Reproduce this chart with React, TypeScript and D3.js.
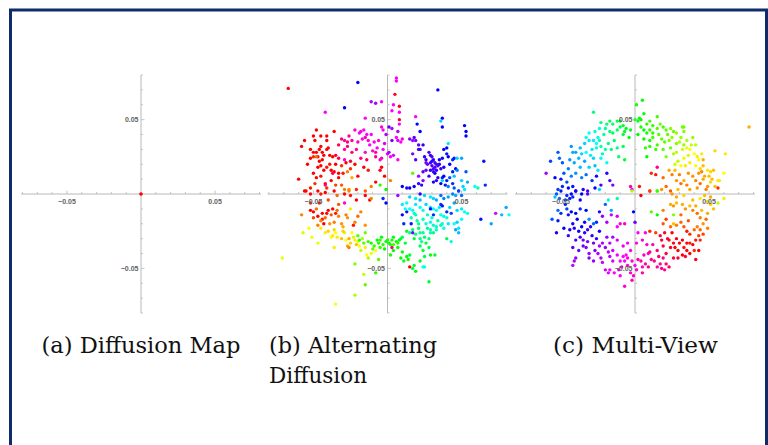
import React from "react";
import * as d3 from "d3";

// point coordinates are in thousandths (x1000), third value is hue in degrees
const diffusionMapPts: [number, number, number][] = [[0, 0, 0]];

const alternatingPts: [number, number, number][] = [
  [-67,71,0],[-20,75,240],[6,78,300],[6,76,300],[34,70,240],[5,67,350],[-11,62,280],[-8,61,280],[-4,62,300],
  [-29,58,240],[-42,55,300],[4,60,300],[8,59,350],[3,56,300],[8,55,300],[19,52,300],[-15,51,300],[8,50,350],
  [8,47,300],[37,51,240],[36,49,190],[20,47,240],[52,46,240],[53,39,240],[53,42,240],[37,45,240],[22,42,240],
  [-48,43,0],[-36,42,0],[-50,39,0],[-45,39,0],[-41,39,355],[-56,36,0],[-49,36,0],[-41,36,0],[-45,32,0],[-58,32,0],
  [-50,28,0],[-48,28,0],[-44,28,0],[-41,30,0],[-52,24,0],[-47,25,0],[-44,23,0],[-43,26,0],[-39,26,0],[-37,25,0],
  [-35,26,355],[-33,24,340],[-29,23,310],
  [-31,37,330],[-29,36,320],[-27,35,330],[-24,36,320],[-22,43,310],[-19,41,300],[-18,42,310],[-16,43,300],
  [-15,38,320],[-14,40,300],[-13,36,310],[-11,40,300],[-9,35,310],[-7,31,300],[-8,28,320],[-15,28,310],
  [-21,30,320],[-24,28,330],[-27,32,330],[-29,30,320],[-3,30,300],[-4,24,320],[-5,23,310],[-8,25,330],[-14,23,340],
  [0,27,290],[1,28,280],[2,25,300],[4,26,290],[7,23,300],[3,36,270],[6,38,300],[7,36,290],[7,42,280],[9,35,300],
  [10,37,310],[1,45,260],[3,44,280],[-3,43,300],[-1,40,280],[-4,45,310],
  [15,37,270],[17,36,280],[18,38,260],[19,36,270],[21,33,260],[21,30,250],[22,30,260],[24,33,250],[25,25,250],
  [26,23,250],[28,28,260],[29,26,250],[30,19,260],[31,17,255],[32,18,260],[33,16,250],[34,19,260],[36,17,255],
  [31,15,260],[29,16,250],[26,16,265],[35,23,240],[37,24,245],[38,30,240],[40,31,240],[40,27,235],[41,25,240],
  [44,23,230],[45,24,235],[46,17,240],[37,11,230],[38,12,240],[40,9,235],[42,11,220],[44,7,230],[45,4,220],
  [41,5,210],[39,6,235],[36,7,240],[33,9,250],[31,8,245],[24,9,270],[23,6,255],[21,7,250],[18,5,245],[15,4,240],
  [13,4,250],[10,5,240],[22,0,250],[17,14,100],[21,12,280],[24,15,260],[26,21,270],[17,27,270],[19,23,260],
  [31,23,250],[32,21,255],[30,25,260],
  [41,34,185],[47,24,190],[50,24,200],[53,15,220],[54,8,200],[51,5,190],[52,3,185],[48,2,200],[59,5,180],
  [61,4,160],[66,6,230],[65,22,235],[45,12,195],[47,16,210],[50,9,190],[37,9,190],
  [-60,10,0],[-55,2,0],[-52,4,5],[-50,14,0],[-48,11,0],[-49,7,10],[-45,12,5],[-43,16,0],[-42,7,0],[-41,4,10],
  [-38,9,0],[-36,15,0],[-35,6,15],[-33,11,0],[-31,6,20],[-27,15,30],[-25,17,10],[-24,11,40],[-29,3,30],
  [-26,3,35],[-21,3,10],[-15,2,20],[-11,5,30],[-8,8,0],[-5,6,110],[-1,3,120],[2,9,30],[-2,12,0],[-5,16,350],
  [-4,18,0],[-13,16,5],[-16,18,0],[-20,12,0],[-30,14,5],[-33,14,0],[-48,25,25],[-47,18,0],[-50,25,10],
  [-45,19,0],[-41,18,5],[-38,16,0],[-37,14,340],[-42,6,330],
  [-56,2,0],[-52,0,0],[-47,2,0],[-45,0,5],[-42,1,0],[-36,2,0],[-34,-1,25],[-29,0,0],[-26,2,30],[-25,-1,5],
  [-21,-4,0],[-15,-1,0],[-12,-4,0],[-11,-3,30],
  [-58,-14,30],[-52,-11,0],[-50,-12,0],[-48,-10,25],[-47,-15,0],[-44,-13,0],[-44,-17,5],[-43,-20,0],[-42,-16,25],
  [-41,-13,0],[-40,-11,0],[-38,-14,20],[-37,-10,0],[-36,-19,30],[-35,-13,5],[-34,-11,25],[-33,-15,30],
  [-31,-20,35],[-30,-22,40],[-29,-6,310],[-28,-14,30],[-27,-16,35],[-25,-10,55],[-23,-21,5],[-22,-19,30],
  [-20,-15,25],[-18,-12,30],[-15,-21,35],[-47,-21,30],[-45,-23,55],
  [-42,-26,55],[-40,-25,50],[-38,-29,60],[-37,-28,55],[-36,-24,50],[-35,-26,60],[-34,-29,55],[-31,-30,45],
  [-29,-26,70],[-28,-31,60],[-26,-30,40],[-25,-33,50],[-23,-29,70],[-22,-31,55],[-21,-34,45],[-20,-32,65],
  [-27,-35,40],[-26,-36,30],[-19,-35,60],[-18,-38,75],[-15,-36,55],[-14,-41,60],[-13,-43,80],[-11,-40,65],
  [-8,-38,60],[-53,-23,60],[-57,-26,70],[-51,-29,65],[-47,-33,65],[-71,-43,65],[-35,-74,60],[-36,-36,55],
  [-22,-47,90],[-16,-54,75],[-15,-61,100],[-22,-68,80],[-20,-28,100],[-19,-31,110],[-16,-33,100],[-15,-26,95],
  [-13,-32,105],[-11,-33,115],[-9,-35,110],[-7,-31,120],[-6,-33,115],[-5,-31,110],[-4,-29,120],[-3,-34,110],
  [-1,-32,125],[0,-31,115],[1,-33,120],[2,-34,115],[3,-31,115],[4,-29,125],[6,-32,120],[7,-33,110],[8,-31,125],
  [9,-30,130],[-6,-44,100],[-8,-53,110],[2,-41,115],[4,-34,105],[7,-36,120],[10,-39,125],[9,-43,120],
  [11,-45,130],[13,-42,120],[14,-44,115],[15,-41,130],[15,-49,0],[17,-50,140],[18,-48,130],[19,-52,120],
  [22,-45,125],[22,-35,140],[24,-38,135],[26,-33,130],[28,-36,140],[25,-42,135],[29,-41,125],[32,-41,130],
  [28,-59,130],[10,-29,140],[13,-25,130],[15,-26,150],[17,-24,145],[18,-30,135],[19,-27,150],[21,-23,140],
  [22,-30,150],[23,-32,160],[24,-26,155],[25,-29,145],[28,-30,150],[29,-26,160],[31,-26,150],[33,-24,165],
  [36,-21,160],[37,-20,170],[40,-30,140],[25,-49,175],[24,-49,175],
  [10,-7,185],[13,-6,175],[15,-10,180],[17,-11,170],[18,-13,175],[19,-7,185],[22,-9,180],[24,-11,175],
  [26,-7,190],[29,-9,185],[31,-10,180],[33,-11,175],[36,-14,180],[38,-15,170],[24,-17,165],[26,-20,170],
  [29,-19,175],[31,-21,165],[33,-22,170],[38,-23,175],[19,-14,160],[21,-20,155],[29,-24,165],[22,-26,160],
  [41,-20,185],[45,-20,180],[47,-19,190],[48,-23,185],[50,-17,180],[46,-24,200],[48,-26,195],[43,-32,170],
  [45,-6,200],[47,-11,190],[50,-10,185],[52,-12,180],[54,-13,175],[82,-14,180],[63,-17,235],[73,-13,290],
  [70,-20,200],[15,-2,190],[19,-3,185],[22,-4,195],[25,-1,190],[29,-2,185],[31,-3,190],[33,-4,200],
  [36,-1,215],[38,-3,210],[41,-2,200],[44,0,210],[46,-1,200],[48,2,225],[50,-1,215],
  [13,-12,235],[10,-14,240],[11,-20,230],[17,-26,270],[16,-20,235],[36,-7,230],[37,-8,235],[40,-12,230],
  [43,-13,225],[31,-14,230],[29,-10,235],[-1,-6,240],[-3,-3,230],[7,-1,280],[3,-36,330],
  [-40,31,0],[-46,30,0],[-52,30,0],[-54,20,0],[-46,22,0],[-39,20,5],[-35,20,0],[-31,19,10],[-28,21,0],
  [-25,22,345],[-22,20,0],[-18,24,330],[-20,35,315],[-17,37,305],[-12,33,300],[-10,29,310],[-6,36,305],
  [-2,34,290],[-26,39,325],[-33,33,340],
  [27,20,265],[29,21,255],[30,22,250],[33,20,260],[35,20,250],[32,14,245],[28,12,255],[34,11,250],[42,20,240],
  [44,15,235],[38,18,245],
  [27,-14,165],[30,-16,170],[34,-18,160],[20,-18,160],[16,-16,165],[12,-10,180],[35,-9,185],[42,-9,190],
  [40,-16,175],[27,-23,155],
  [-5,-36,110],[-10,-37,95],[-2,-37,120],[4,-38,125],[12,-33,130],[-17,-30,80],[-24,-26,60],[-30,-25,50],
  [-39,-20,35],[-45,-18,30],[-50,-16,15],[-52,-6,10],[-46,-6,5],[-40,-4,15],[-33,-7,20],
];

const multiViewPts: [number, number, number][] = [
  [5,63,120],[1,60,115],[6,54,125],[3,51,120],[0,50,110],[2,49,130],[4,50,120],[15,52,105],[-28,55,150],
  [-23,48,155],[-19,47,145],[-17,49,140],[-15,47,150],[-12,49,135],[-10,45,140],[-8,46,130],[-6,44,125],
  [-3,43,130],[-10,49,130],[-20,44,160],[-17,42,150],[-15,41,140],[-12,43,145],[-8,40,135],[-7,42,130],
  [8,47,110],[10,49,105],[12,46,110],[15,44,100],[17,47,95],[19,45,105],[21,43,100],[24,44,90],[26,42,95],
  [28,41,85],[10,43,110],[8,41,115],[6,43,120],[12,38,105],[16,40,100],[18,37,95],[20,35,100],[23,36,90],
  [25,38,85],[32,45,95],[33,42,90],[31,38,85],[35,36,80],[39,38,85],[41,33,75],[33,33,85],[28,34,90],
  [24,31,95],[19,30,100],[15,33,105],[10,36,115],[6,37,120],[7,31,110],[10,32,110],[14,30,105],[8,25,120],
  [21,25,90],[26,27,80],[28,28,75],[32,30,70],[35,31,65],[37,30,60],[40,27,60],[42,25,55],[43,23,60],
  [36,26,70],[33,24,65],[29,22,75],[27,20,70],[31,19,60],[34,19,55],[37,21,55],[41,19,60],[44,17,50],
  [46,19,45],[46,23,40],[49,16,55],[51,15,50],[53,16,45],[60,14,60],[54,29,50],[61,27,55],[77,45,40],[33,45,95],
  [15,18,330],[11,14,10],[14,13,5],[19,11,25],[23,16,40],[25,13,30],[28,9,35],[31,7,25],[33,9,40],[35,6,30],
  [39,12,35],[41,9,30],[43,14,35],[44,7,25],[46,10,40],[49,5,35],[51,8,50],[54,5,45],[56,9,55],[48,3,30],
  [42,4,35],[37,3,40],[29,3,45],[24,2,20],[21,5,25],[18,3,35],[15,2,90],[10,2,15],[3,5,5],[-3,5,320],
  [-2,3,290],[56,4,10],[57,9,55],[45,15,30],[50,12,45],
  [-33,38,175],[-31,41,180],[-27,42,170],[-25,38,175],[-24,36,165],[-26,34,180],[-28,36,185],[-34,34,190],
  [-37,31,195],[-40,28,200],[-43,32,205],[-42,28,200],[-36,27,190],[-33,28,180],[-29,30,185],[-26,31,170],
  [-23,32,165],[-22,27,160],[-18,34,155],[-16,30,150],[-12,31,150],[-8,32,140],[-11,25,145],[-7,23,130],
  [-24,44,170],[-21,40,160],[-31,36,185],[-52,28,220],[-57,22,225],[-51,24,215],[-49,21,220],[-44,23,205],
  [-41,21,200],[-37,18,195],[-34,22,200],[-31,18,190],[-27,19,195],[-25,16,185],[-23,24,180],[-19,21,175],
  [-60,14,280],[-54,11,240],[-50,10,235],[-46,8,225],[-43,12,210],[-40,14,205],[-36,11,210],[-33,13,215],
  [-29,9,230],[-26,12,245],[-23,6,255],[-19,14,250],[-17,9,260],[-15,6,270],[-49,5,230],[-45,4,240],
  [-42,5,235],[-40,2,245],[-35,3,250],[-32,0,260],[-27,4,240],[-24,3,190],[-52,3,225],
  [-53,0,220],[-50,2,235],[-46,-1,230],[-43,0,240],[-40,2,245],[-36,0,240],[-32,2,255],[-51,-3,215],
  [-47,-4,225],[-44,-3,235],[-42,-2,230],[-37,-4,245],[-54,-2,195],[-56,-17,220],[-52,-11,215],[-50,-13,230],
  [-46,-10,225],[-45,-14,235],[-43,-12,240],[-40,-13,240],[-37,-10,230],[-33,-11,240],[-31,-17,205],
  [-28,-20,215],[-26,-19,230],[-42,-20,245],[-48,-23,240],[-44,-24,245],[-41,-23,250],[-38,-25,245],
  [-36,-22,240],[-34,-26,250],[-32,-24,255],[-29,-28,250],[-37,-29,255],[-40,-31,260],[-35,-31,265],
  [-32,-32,270],[-28,-33,265],[-26,-30,255],[-24,-25,245],[-53,-26,245],[-42,-36,260],[-38,-38,265],
  [-33,-36,270],[-31,-40,275],[-27,-38,270],[-25,-40,280],[-23,-43,280],[-20,-36,275],[-18,-39,285],
  [-40,-43,275],[-41,-45,280],[-42,-48,285],[-31,-43,270],[-17,-42,285],[-15,-38,290],[-12,-41,295],
  [-10,-45,300],[-15,-45,290],[-17,-51,300],[-20,-51,290],[-18,-53,295],[-14,-53,300],[-11,-51,295],
  [-9,-49,305],[-7,-45,300],[-5,-43,305],[-8,-42,300],[-6,-41,305],[-10,-55,305],[-7,-62,310],[-3,-53,310],
  [-1,-55,315],[-2,-45,310],[0,-48,305],[2,-44,320],[5,-49,315],[7,-47,320],[1,-51,310],[5,-53,320],
  [6,-41,315],[9,-40,310],[11,-44,325],[10,-39,330],[15,-38,330],[16,-42,335],[12,-34,320],[8,-34,315],
  [5,-31,310],[7,-26,305],[2,-26,300],[1,-33,305],[-3,-38,300],[-5,-33,305],[-8,-35,295],[-12,-31,290],
  [-15,-29,280],[-19,-29,275],[-22,-33,280],[-17,-33,285],[-24,-35,280],[-12,-22,300],[-10,-20,310],
  [-7,-20,315],[-12,-15,290],[-16,-14,285],[-19,-19,280],[-22,-15,275],[-24,-12,250],[-20,-7,215],
  [-18,-4,170],[-12,-3,160],[-16,-11,200],[-1,-12,240],[0,-19,265],[4,-1,0],[-2,2,80],[15,2,110],[10,2,15],
  [11,-12,100],[15,-14,120],[26,-14,90],[19,-20,20],[21,-17,15],[24,-22,25],[26,-20,45],[28,-21,30],
  [31,-19,25],[33,-22,20],[35,-25,5],[37,-27,10],[40,-24,25],[42,-22,30],[44,-24,25],[43,-28,15],[41,-31,5],
  [39,-34,0],[35,-33,355],[32,-31,0],[28,-30,355],[26,-33,350],[24,-36,355],[21,-40,345],[19,-35,340],
  [18,-31,350],[17,-28,345],[20,-26,350],[23,-31,5],[25,-26,0],[27,-36,0],[29,-38,355],[32,-41,0],
  [34,-42,350],[35,-38,355],[33,-36,5],[37,-40,0],[41,-44,355],[40,-38,10],[19,-43,330],[21,-47,335],
  [17,-47,325],[15,-49,320],[18,-50,330],[20,-51,325],[23,-49,340],[10,-25,10],[14,-26,15],[19,-11,30],
  [24,-7,40],[26,-8,35],[28,-6,45],[32,-7,40],[34,-10,35],[37,-8,45],[39,-11,30],[41,-8,40],[42,-13,25],
  [44,-16,30],[46,-20,35],[49,-23,30],[45,-11,45],[49,-13,40],[51,-7,50],[53,-10,45],[56,-6,75],[60,-3,55],
  [49,-5,50],[44,-3,55],[39,-4,45],[28,-2,40],[25,0,35],[33,-1,50],[47,-1,45],[51,-2,40],
  [-90,-14,195],[-87,-9,200],
  [-45,17,210],[-48,14,220],[-38,24,195],[-30,26,185],[-28,24,190],[-20,30,160],[-14,36,145],[-4,38,125],
  [2,40,120],[4,45,115],[12,41,110],[22,40,95],[30,35,80],[38,33,75],[45,27,55],[47,12,40],[52,10,45],
  [36,14,35],[30,13,30],[27,16,45],
  [-47,-7,230],[-52,-18,235],[-39,-17,240],[-34,-19,245],[-30,-22,250],[-45,-28,255],[-35,-35,265],
  [-28,-45,275],[-22,-46,285],[-5,-48,310],[-2,-58,315],[4,-45,320],[9,-49,325],[13,-45,330],[26,-43,345],
  [30,-33,0],[37,-33,5],[43,-38,0],[44,-31,10],[46,-27,15],[48,-17,25],[36,-18,20],[31,-14,25],[22,-30,350],
  [29,-43,350],
];

const minorTicks = [-0.08, -0.07, -0.06, -0.05, -0.04, -0.03, -0.02, -0.01, 0.01, 0.02, 0.03, 0.04, 0.05, 0.06, 0.07, 0.08];
const majorTicks = [-0.05, 0.05];
const tickLabels = ["\u22120.05", "0.05"];

const captionLines = [
  { text: "(a) Diffusion Map", panel: 0, line: 0, len: 199 },
  { text: "(b) Alternating", panel: 1, line: 0, len: 168 },
  { text: "Diffusion", panel: 1, line: 1, len: 98 },
  { text: "(c) Multi-View", panel: 2, line: 0, len: 165 },
];

const W = 768;
const H = 445;

const panelCenters = [141, 387.5, 635];
const captionX = [41.5, 269, 553];
const panelData = [diffusionMapPts, alternatingPts, multiViewPts];

function Panel({ cx, pts, idx }: { cx: number; pts: [number, number, number][]; idx: number }) {
  const x = d3.scaleLinear().domain([-0.081, 0.081]).range([cx - 120, cx + 120]);
  const y = d3.scaleLinear().domain([-0.08, 0.08]).range([313, 75]);
  const axisColor = "#b8b8b8";
  const labelColor = "#5e5e5e";
  const x0 = x(0);
  const y0 = y(0);
  const r = idx === 0 ? 1.8 : 1.7;
  return (
    <g>
      <line x1={x(-0.081)} x2={x(0.081)} y1={y0} y2={y0} stroke={axisColor} strokeWidth={1} />
      <line x1={x0} x2={x0} y1={y(0.08)} y2={y(-0.08)} stroke={axisColor} strokeWidth={1} />
      {minorTicks.map((t) => {
        const major = majorTicks.includes(t);
        const len = major ? 3.5 : 2;
        return (
          <g key={"t" + t}>
            <line x1={x(t)} x2={x(t)} y1={y0} y2={y0 - len} stroke={axisColor} strokeWidth={0.8} />
            <line x1={x0} x2={x0 + len} y1={y(t)} y2={y(t)} stroke={axisColor} strokeWidth={0.8} />
          </g>
        );
      })}
      {pts.map((p, i) => (
        <circle
          key={i}
          cx={x(p[0] / 1000)}
          cy={y(p[1] / 1000)}
          r={r}
          fill={d3.hsl(p[2], 1, 0.5).formatHex()}
        />
      ))}
      {majorTicks.map((t, i) => (
        <g
          key={"l" + t}
          style={{ fontFamily: "'Liberation Sans', Arial, sans-serif", fontSize: "7px", fontWeight: 600 }}
          fill={labelColor}
          opacity={0.98}
        >
          <text x={x(t)} y={y0 + 9.5} textAnchor="middle">{tickLabels[i]}</text>
          <text x={x0 - 2.5} y={y(t) + 2.5} textAnchor="end">{tickLabels[i]}</text>
        </g>
      ))}
    </g>
  );
}

export default function App() {
  return (
    <svg
      width={W}
      height={H}
      viewBox={`0 0 ${W} ${H}`}
      style={{ position: "absolute", left: 0, top: 0, background: "#fff" }}
    >
      <rect x={0} y={0} width={W} height={H} fill="#fff" />
      <rect x={10.5} y={10} width={756} height={460} fill="none" stroke="#0f2b6c" strokeWidth={3} />
      {panelCenters.map((cx, i) => (
        <Panel key={i} cx={cx} pts={panelData[i]} idx={i} />
      ))}
      {captionLines.map((c, i) => (
        <text
          key={i}
          x={captionX[c.panel]}
          y={353 + c.line * 30}
          style={{ fontFamily: "'DejaVu Serif', serif", fontSize: "23px" }}
          fill="#111"
          textLength={c.len}
          lengthAdjust="spacingAndGlyphs"
        >
          {c.text}
        </text>
      ))}
    </svg>
  );
}
